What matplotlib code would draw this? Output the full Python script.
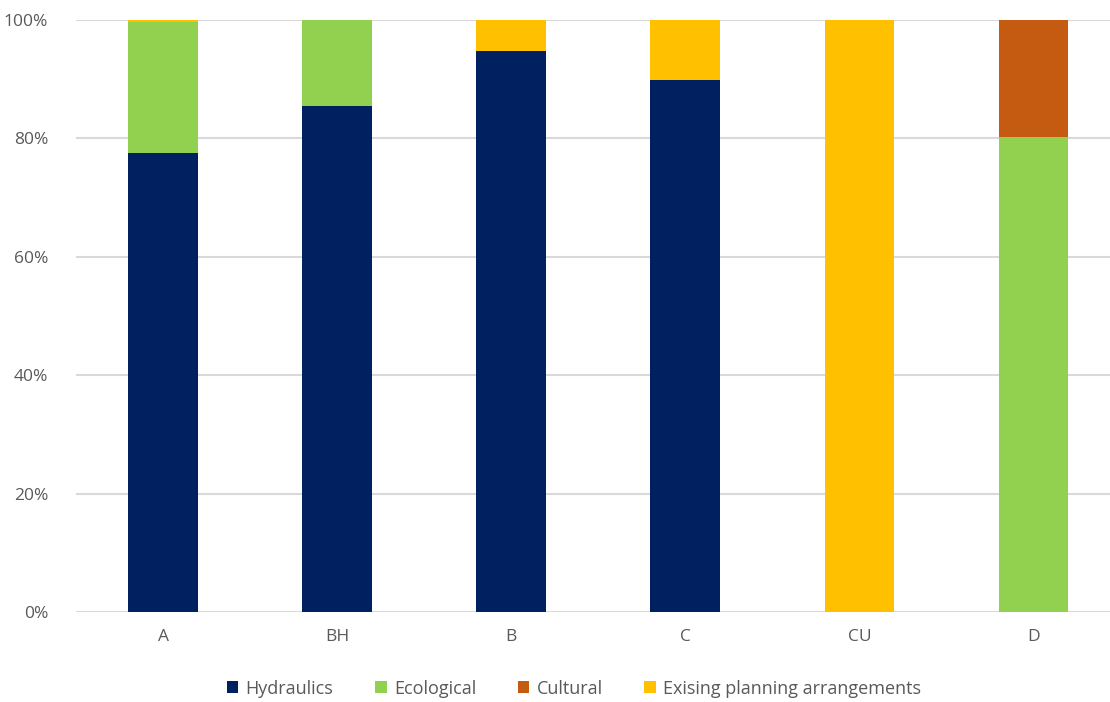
import matplotlib.pyplot as plt
import numpy as np

categories = ["A", "BH", "B", "C", "CU", "D"]
hydraulics = [77.5, 85.4, 94.7, 89.9, 0, 0]
ecological = [22.1, 14.6, 0, 0, 0, 80.2]
cultural = [0, 0, 0, 0, 0, 19.8]
existing = [0.4, 0, 5.3, 10.1, 100, 0]

series = [
    ("Hydraulics", hydraulics, "#002060"),
    ("Ecological", ecological, "#92D050"),
    ("Cultural", cultural, "#C55A11"),
    ("Exising planning arrangements", existing, "#FFC000"),
]

plt.rcParams["font.family"] = ["Open Sans", "DejaVu Sans"]

fig = plt.figure(figsize=(11.1, 7.02), dpi=100)
ax = fig.add_axes([0.0685, 0.128, 0.9315, 0.8435])

x = np.arange(len(categories))
bottom = np.zeros(len(categories))
for name, vals, color in series:
    vals = np.array(vals, dtype=float)
    ax.bar(x, vals, width=0.4, bottom=bottom, color=color, label=name, zorder=3)
    bottom += vals

ax.set_xlim(-0.5, 5.44)
ax.set_ylim(0, 100)
ax.set_yticks(range(0, 101, 20))
ax.set_yticklabels([f"{v}%" for v in range(0, 101, 20)])
ax.set_xticks(x)
ax.set_xticklabels(categories)
ax.tick_params(axis="both", length=0, labelsize=12.5, colors="#595959")
ax.tick_params(axis="x", pad=12)
ax.tick_params(axis="y", pad=20)
ax.yaxis.grid(True, color="#D9D9D9", linewidth=1.5, zorder=0)
for s in ax.spines.values():
    s.set_visible(False)

fig.legend(loc="center", bbox_to_anchor=(0.517, 0.019), ncol=4, frameon=False,
           fontsize=13, handlelength=0.65, handleheight=0.65, handletextpad=0.4,
           columnspacing=2.3, labelcolor="#595959")

plt.savefig("out.png", dpi=100)
